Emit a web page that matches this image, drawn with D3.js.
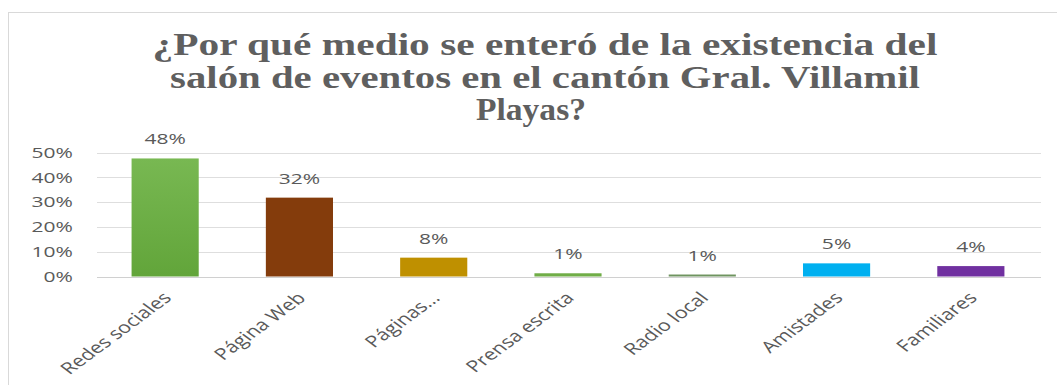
<!DOCTYPE html>
<html>
<head>
<meta charset="utf-8">
<script src="https://cdn.jsdelivr.net/npm/d3@7"></script>
<style>
  html, body { margin: 0; padding: 0; background: #fff; }
  svg { display: block; }
</style>
</head>
<body>
<svg id="chart" width="1057" height="385"></svg>
<script>
// ---- data ----
const categories = ["Redes sociales", "Página Web", "Páginas...", "Prensa escrita", "Radio local", "Amistades", "Familiares"];
const values = [0.476, 0.318, 0.076, 0.013, 0.008, 0.053, 0.042];
const colors = ["#6cb045", "#843c0c", "#bf9000", "#70ad47", "#6f9460", "#00b0f0", "#7030a0"];
const yTicks = [0, 0.1, 0.2, 0.3, 0.4, 0.5];
const titleLines = ["¿Por qué medio se enteró de la existencia del", "salón de eventos en el cantón Gral. Villamil", "Playas?"];

const SX = 1.45;   // horizontal stretch of the original picture
const SXL = 1.35;  // stretch for the rotated category labels
const textColor = "#595959";
const svg = d3.select("#chart");

// border
svg.append("rect").attr("x", 8.5).attr("y", 12.5).attr("width", 1100).attr("height", 400)
  .attr("fill", "none").attr("stroke", "#d9d9d9").attr("stroke-width", 1);

const x = d3.scaleBand().domain(categories).range([98, 1038]).paddingInner(0.5).paddingOuter(0.25);
const y = d3.scaleLinear().domain([0, 0.5]).range([276.5, 152.5]);

// gridlines
svg.append("g").selectAll("line").data(yTicks).join("line")
  .attr("x1", 97).attr("x2", 1041)
  .attr("y1", d => Math.round(y(d)) + 0.5).attr("y2", d => Math.round(y(d)) + 0.5)
  .attr("stroke", d => d === 0 ? "#d0d0d0" : "#dedede").attr("stroke-width", 1);

// y tick labels
const fmt = d3.format(".0%");
svg.append("g").selectAll("text").data(yTicks).join("text")
  .attr("transform", d => `translate(73,${y(d)}) scale(${SX},1)`)
  .attr("dy", "0.36em")
  .attr("text-anchor", "end")
  .attr("font-family", "Open Sans")
  .attr("font-size", 14.5)
  .attr("fill", textColor)
  .text(d => fmt(d));

// gradient for first bar
const defs = svg.append("defs");
const grad = defs.append("linearGradient").attr("id", "g0").attr("x1", 0).attr("y1", 0).attr("x2", 0).attr("y2", 1);
grad.append("stop").attr("offset", "0%").attr("stop-color", "#78b852");
grad.append("stop").attr("offset", "100%").attr("stop-color", "#62a53a");

// bars
svg.append("g").selectAll("rect").data(categories).join("rect")
  .attr("x", d => x(d))
  .attr("width", x.bandwidth())
  .attr("y", (d, i) => y(values[i]))
  .attr("height", (d, i) => y(0) - y(values[i]))
  .attr("fill", (d, i) => i === 0 ? "url(#g0)" : colors[i]);

// data labels
svg.append("g").selectAll("text").data(categories).join("text")
  .attr("transform", (d, i) => `translate(${x(d) + x.bandwidth() / 2},${y(values[i]) - 14}) scale(${SX},1)`)
  .attr("text-anchor", "middle")
  .attr("font-family", "Open Sans")
  .attr("font-size", 14.5)
  .attr("fill", textColor)
  .text((d, i) => fmt(values[i]));

// x labels
svg.append("g").selectAll("text").data(categories).join("text")
  .attr("transform", d => `translate(${x(d) + x.bandwidth() / 2 + 2},${295}) scale(${SXL},1) rotate(-45)`)
  .attr("text-anchor", "end")
  .attr("dy", "0.35em")
  .attr("font-family", "Open Sans")
  .attr("font-size", 16)
  .attr("fill", textColor)
  .text(d => d);

// title
const titleBaselines = [55, 88, 120];
const titleWidths = [785, 750, 110];
const tg = svg.append("g");
const tt = tg.selectAll("text").data(titleLines).join("text")
  .attr("text-anchor", "middle")
  .attr("font-family", "Liberation Serif")
  .attr("font-weight", "bold")
  .attr("font-size", 31)
  .attr("fill", "#5f5f5f")
  .text(d => d);
tt.each(function(d, i) {
  const w = this.getComputedTextLength();
  const s = titleWidths[i] / w;
  const cx = i === 2 ? 531 : 545;
  d3.select(this).attr("transform", `translate(${cx},${titleBaselines[i]}) scale(${s},1)`);
});
</script>
</body>
</html>
